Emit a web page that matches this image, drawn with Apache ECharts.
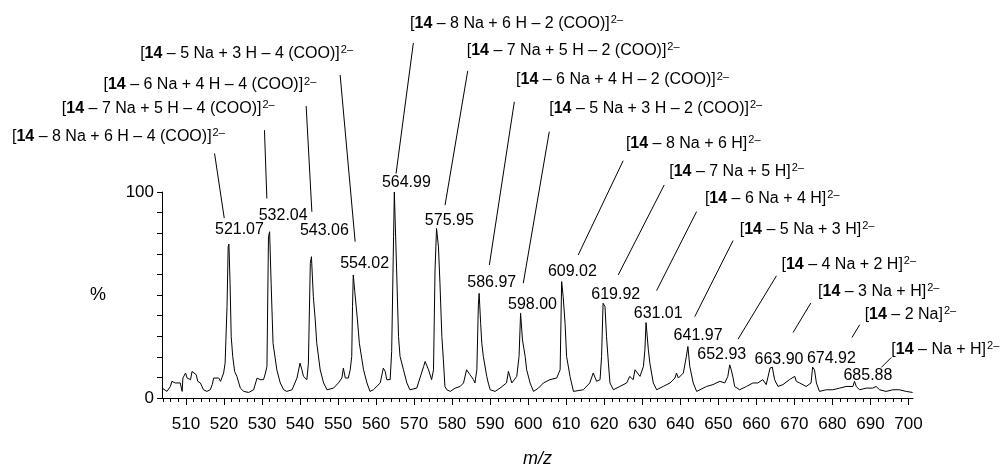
<!DOCTYPE html>
<html>
<head>
<meta charset="utf-8">
<script src="https://cdn.jsdelivr.net/npm/echarts@6/dist/echarts.min.js"></script>
<style>
html,body{margin:0;padding:0;background:#fff;}
#c{width:1001px;height:469px;}
</style>
</head>
<body>
<div id="c"></div>
<script>
// ---- data ----
const xTickLabels = [510,520,530,540,550,560,570,580,590,600,610,620,630,640,650,660,670,680,690,700];
const yTickLabels = [0,100];
const spectrum = [
[503.8,4.8],[504.1,4.8],[505.0,3.2],[505.9,5.6],[506.3,8.1],[507.2,7.3],[508.5,7.3],[509.0,3.2],[509.2,9.7],[509.9,12.1],[510.1,12.9],[510.3,9.7],[511.2,8.9],[511.6,12.9],[512.0,13.7],[512.7,11.3],[513.1,8.1],[513.8,7.3],[514.6,4.0],[515.5,3.2],[516.4,4.0],[516.9,6.5],[517.3,9.7],[518.6,9.7],[519.1,8.1],[519.9,12.1],[520.3,16.9],[520.8,44.4],[521.1,73.4],[521.3,74.7],[521.6,55.7],[521.9,29.8],[522.3,20.2],[522.8,12.9],[523.4,10.5],[524.3,4.8],[525.2,3.2],[526.5,2.7],[527.8,4.0],[528.7,9.7],[529.1,10.5],[529.5,8.9],[530.4,8.9],[530.9,12.1],[531.3,15.3],[531.7,78.3],[532.0,80.7],[532.4,55.7],[532.9,26.6],[533.9,13.7],[534.8,7.3],[535.7,4.0],[536.5,3.2],[537.9,4.0],[539.2,9.7],[540.0,16.9],[540.5,13.7],[540.9,10.5],[541.8,8.9],[542.2,16.9],[542.7,65.3],[543.0,68.6],[543.5,49.2],[544.0,37.9],[544.4,26.6],[545.3,13.7],[546.2,7.3],[547.1,4.0],[548.8,4.8],[550.1,7.3],[551.0,9.7],[551.4,14.5],[551.9,9.7],[552.7,9.7],[553.2,13.7],[553.6,20.2],[553.8,44.4],[554.0,59.7],[554.4,51.6],[555.1,37.9],[555.6,26.6],[556.7,13.7],[557.6,7.3],[558.4,3.2],[559.3,4.0],[561.1,7.3],[561.9,14.5],[562.4,12.9],[562.8,8.9],[563.7,8.9],[564.1,22.6],[564.6,78.3],[564.8,100],[565.1,100],[565.4,62.1],[565.9,29.8],[566.3,20.2],[567.2,13.7],[568.1,7.3],[568.9,4.0],[570.7,4.8],[572.5,15.3],[572.9,17.7],[573.8,13.7],[574.6,8.9],[575.1,13.7],[575.5,62.1],[575.9,82.3],[576.4,73.4],[576.8,55.7],[577.3,29.8],[577.7,18.5],[578.1,5.6],[578.6,4.0],[579.5,3.2],[580.8,4.8],[582.1,5.6],[583.0,7.3],[583.8,13.7],[584.3,14.5],[584.7,11.3],[585.6,8.9],[586.0,7.3],[586.5,13.7],[586.9,45.2],[587.1,50.8],[587.5,36.3],[587.8,26.6],[588.2,20.2],[589.1,10.5],[589.5,7.3],[590.0,4.0],[591.3,3.2],[592.6,4.8],[594.3,7.3],[594.8,12.9],[595.2,12.1],[595.7,7.3],[597.0,10.5],[597.6,20.2],[598.0,41.1],[598.5,28.2],[599.2,20.2],[599.6,13.7],[600.5,7.3],[601.4,3.2],[602.7,4.8],[604.0,7.3],[605.7,8.9],[607.5,9.7],[608.4,13.7],[608.8,56.5],[609.2,49.2],[609.7,36.3],[610.1,20.2],[611.0,10.5],[611.9,3.2],[614.5,4.0],[616.2,7.3],[617.1,12.1],[618.0,8.1],[618.9,8.9],[619.3,20.2],[619.7,46.0],[620.2,44.4],[620.6,29.8],[621.1,16.9],[621.5,7.3],[622.4,4.0],[624.1,5.6],[625.9,7.3],[626.7,10.5],[627.6,8.9],[628.1,13.7],[629.4,10.5],[630.3,15.3],[630.7,23.4],[631.0,36.6],[631.6,23.4],[632.0,16.9],[632.9,7.3],[633.8,4.0],[635.5,5.6],[637.3,7.3],[638.6,9.7],[639.0,12.1],[639.5,9.7],[640.8,12.1],[641.6,20.2],[642.0,25.0],[642.5,15.3],[643.4,7.3],[644.3,3.2],[646.9,5.6],[648.6,6.5],[650.4,8.1],[651.7,7.3],[652.5,10.5],[653.0,16.1],[653.4,13.7],[653.9,9.7],[654.3,5.6],[655.6,4.0],[657.4,5.6],[659.1,7.3],[660.4,7.3],[661.7,8.9],[662.6,6.5],[663.0,7.3],[663.6,14.5],[664.2,15.0],[664.8,8.9],[665.7,5.6],[667.0,6.5],[668.7,8.9],[670.1,10.5],[670.5,8.1],[671.4,7.3],[673.1,5.6],[674.4,7.3],[674.8,15.0],[675.3,13.7],[675.8,7.3],[676.6,3.2],[678.4,4.0],[680.1,4.0],[681.9,4.8],[683.6,5.6],[685.4,5.6],[685.8,8.1],[686.3,5.6],[687.1,4.0],[688.9,4.8],[690.6,4.8],[691.5,5.6],[692.4,4.0],[694.1,3.2],[695.9,4.0],[697.6,4.0],[699.4,3.2],[701.1,2.7]
];
const peakMz  = [521.07,532.04,543.06,554.02,564.99,575.95,586.97,598.00,609.02,619.92,631.01,641.97,652.93,663.90,674.92,685.88];
const peakPct = [74.7,80.7,68.6,59.7,100,82.3,50.8,41.1,56.5,46.0,36.6,25.0,16.1,15.0,15.0,8.1];
const peakText = ['521.07','532.04','543.06','554.02','564.99','575.95','586.97','598.00','609.02','619.92','631.01','641.97','652.93','663.90','674.92','685.88'];
const ionText = [
 '– 8 Na + 6 H – 4 (COO)','– 7 Na + 5 H – 4 (COO)','– 6 Na + 4 H – 4 (COO)','– 5 Na + 3 H – 4 (COO)',
 '– 8 Na + 6 H – 2 (COO)','– 7 Na + 5 H – 2 (COO)','– 6 Na + 4 H – 2 (COO)','– 5 Na + 3 H – 2 (COO)',
 '– 8 Na + 6 H','– 7 Na + 5 H','– 6 Na + 4 H','– 5 Na + 3 H','– 4 Na + 2 H','– 3 Na + H','– 2 Na','– Na + H'
];

// ---- layout (pixel offsets from each peak top) ----
// [numDx, numDy, lineBottomDx, lineBottomDy, lineTopDx, lineTopDy, textLeftDx, textDy]
const labelLayout = [
 [11.4,-14.7,-3.8,-26,-13.5,-90.7,-216.1,-107.3],
 [13.4,-16.6,-2.9,-33.3,-5.3,-101.6,-207.9,-123.3],
 [12.7,-25.9,0.2,-44.9,-5.5,-150.6,-208.2,-171.6],
 [11.3,-11.7,1.8,-33.3,-13.2,-200,-213.2,-221.7],
 [11.3,-9.4,1,-18.4,18.3,-149,15,-168.4],
 [12.6,-8.3,8.3,-23.3,31,-157.6,30,-178.3],
 [13.1,-11,10.7,-28.3,35.7,-191.6,37.4,-213.3],
 [11.9,-9.1,2.7,-30.1,28.7,-181.7,28.7,-205.1],
 [9.9,-9.9,15.7,-26.6,60.7,-120.9,63.4,-138.3],
 [11.8,-8.3,14.3,-28.3,60.3,-118.3,65.3,-131.6],
 [12.1,-9.4,10.5,-32,50.5,-111,58.8,-124.4],
 [10.3,-10.9,7,-29.9,45.3,-105.9,52,-116.6],
 [-7.7,-10,8.6,-25.7,47,-89,52,-100],
 [7.8,-8,21.9,-34.6,39.6,-64,46.9,-75.6],
 [18.3,-9,38.9,-29.6,46.6,-42.3,51.6,-52.3],
 [13.2,-5.6,26.6,-13.9,36.6,-23.9,36.6,-31.6]
];

const FONT = '"Liberation Sans", Arial, Helvetica, sans-serif';
const minorTicks = [];
for (let v = 504; v <= 700; v += 2) { if (v % 10 !== 0) minorTicks.push(v); }

const chart = echarts.init(document.getElementById('c'), null, {renderer:'canvas'});
const option = {
  animation: false,
  backgroundColor: '#fff',
  textStyle: {fontFamily: FONT},
  grid: {left: 162, right: 88, top: 192, bottom: 71},
  xAxis: [{
    type: 'value', min: 503.7, max: 701.2,
    name: 'm/z', nameLocation: 'middle', nameGap: 52,
    nameTextStyle: {fontFamily: FONT, fontSize: 18, fontStyle: 'italic', color: '#000'},
    axisLine: {show: true, onZero: false, lineStyle: {color: '#000', width: 1}},
    axisTick: {show: true, length: 7, customValues: xTickLabels, lineStyle: {color: '#000'}},
    axisLabel: {show: true, customValues: xTickLabels, fontFamily: FONT, fontSize: 17, color: '#000', margin: 18},
    splitLine: {show: false}
  }, {
    type: 'value', min: 503.7, max: 701.2, position: 'bottom',
    axisLine: {show: false},
    axisTick: {show: true, length: 4, customValues: minorTicks, lineStyle: {color: '#000'}},
    axisLabel: {show: false},
    splitLine: {show: false}
  }],
  yAxis: {
    type: 'value', min: 0, max: 100, interval: 10,
    name: '%', nameLocation: 'middle', nameGap: 56, nameRotate: 0,
    nameTextStyle: {fontFamily: FONT, fontSize: 18, color: '#000'},
    axisLine: {show: true, lineStyle: {color: '#000', width: 1}},
    axisTick: {show: true, length: 5, lineStyle: {color: '#000'}},
    axisLabel: {fontFamily: FONT, fontSize: 17, color: '#000', margin: 8,
      formatter: v => yTickLabels.indexOf(v) >= 0 ? String(v) : ''},
    splitLine: {show: false}
  },
  series: [{
    type: 'line', data: spectrum, xAxisIndex: 0,
    showSymbol: false, symbol: 'none',
    lineStyle: {color: '#000', width: 1},
    silent: true
  }, {
    type: 'custom', xAxisIndex: 0, clip: false, silent: true,
    data: peakMz.map((m, i) => [m, peakPct[i]]),
    renderItem: function (params, api) {
      const i = params.dataIndex;
      const p = api.coord([api.value(0), api.value(1)]);
      const L = labelLayout[i];
      return {
        type: 'group',
        children: [
          {type: 'text', style: {text: peakText[i], x: p[0] + L[0], y: p[1] + L[1],
            align: 'center', verticalAlign: 'middle', fontSize: 16, fontFamily: FONT, fill: '#000'}},
          {type: 'line', shape: {x1: p[0] + L[2], y1: p[1] + L[3], x2: p[0] + L[4], y2: p[1] + L[5]},
            style: {stroke: '#000', lineWidth: 1}},
          {type: 'text', style: {
            text: '{n|[}{b|14}{n| ' + ionText[i] + ']}{s|2–}',
            x: p[0] + L[6], y: p[1] + L[7], align: 'left', verticalAlign: 'middle',
            fontSize: 16, fontFamily: FONT, fill: '#000',
            rich: {
              n: {fontSize: 16, fontFamily: FONT, fill: '#000', lineHeight: 18},
              b: {fontSize: 16, fontFamily: FONT, fontWeight: 'bold', fill: '#000', lineHeight: 18},
              s: {fontSize: 11, fontFamily: FONT, fill: '#000', lineHeight: 11, verticalAlign: 'top', padding: [0,0,0,1]}
            }
          }}
        ]
      };
    }
  }]
};
chart.setOption(option);
</script>
</body>
</html>
